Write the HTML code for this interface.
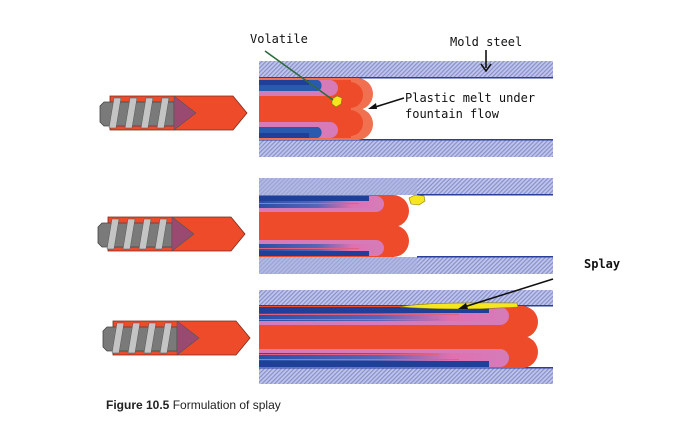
<!DOCTYPE html>
<html><head><meta charset="utf-8"><style>
body{margin:0;background:#fff;width:691px;height:439px;overflow:hidden}
svg{display:block}
.m{font-family:"DejaVu Sans Mono","Liberation Mono",monospace;font-size:12px;fill:#111}
</style></head><body>
<svg width="691" height="439" viewBox="0 0 691 439">
<defs>
<pattern id="h" width="3" height="3" patternUnits="userSpaceOnUse" patternTransform="rotate(45)">
<rect width="3" height="3" fill="#c0c5ea"/><rect width="1.2" height="3" fill="#8890cc"/>
</pattern>
<linearGradient id="band" x1="0" x2="1" y1="0" y2="0">
<stop offset="0" stop-color="#2a4fa8"/><stop offset="0.5" stop-color="#5566b8"/><stop offset="0.8" stop-color="#e070b0"/><stop offset="1" stop-color="#d77ab8"/>
</linearGradient>
<g id="inj">
<path d="M10,0 H133 L147,17 L133,34 H10 Z" fill="#ee4b2b" stroke="#7a2a1a" stroke-width="0.8"/>
<path d="M4,6 H74 V30 H4 L0,26 V10 Z" fill="#7a7a7a" stroke="#444" stroke-width="0.8"/>
<path d="M14,2 h7 l-5,30 h-7z M30,2 h7 l-5,30 h-7z M46,2 h7 l-5,30 h-7z M62,2 h7 l-5,30 h-7z" fill="#c4c4c4" stroke="#555" stroke-width="0.5"/>
<path d="M74,0 L96,17 L74,34 Z" fill="#9a4a70" stroke="#555" stroke-width="0.6"/>
</g>
</defs>

<use href="#inj" x="100" y="96"/>
<use href="#inj" x="98" y="217"/>
<use href="#inj" x="103" y="321"/>

<!-- Panel 1 -->
<rect x="259" y="61" width="294" height="17" fill="url(#h)"/>
<rect x="259" y="140" width="294" height="17" fill="url(#h)"/>
<rect x="259" y="77" width="294" height="1.5" fill="#2a3f9a"/>
<rect x="259" y="139" width="294" height="1.5" fill="#2a3f9a"/>
<g>
<rect x="259" y="78" width="100" height="62" fill="#f07050"/>
<circle cx="357" cy="94" r="16" fill="#f07050"/><circle cx="357" cy="124" r="16" fill="#f07050"/>
<rect x="259" y="80" width="92" height="58" fill="#ee4b2b"/>
<circle cx="350" cy="95" r="13" fill="#ee4b2b"/><circle cx="350" cy="123" r="13" fill="#ee4b2b"/>
<path d="M259,80 H330 a8,8 0 0 1 0,16 H259Z" fill="#d77ab8"/>
<path d="M259,138 H330 a8,8 0 0 0 0,-16 H259Z" fill="#d77ab8"/>
<path d="M259,80 H318 a6,6 0 0 1 0,11 H259Z" fill="#2a5ab0"/>
<path d="M259,138 H318 a6,6 0 0 0 0,-11 H259Z" fill="#2a5ab0"/>
<rect x="259" y="80" width="50" height="5" fill="#1f3f98"/>
<rect x="259" y="133" width="50" height="5" fill="#1f3f98"/>
</g>
<path d="M332,99 l5,-3 l5,2 l-1,6 l-5,3 l-4,-3z" fill="#f5e620" stroke="#8a7a00" stroke-width="0.6"/>
<line x1="265" y1="51" x2="333" y2="100" stroke="#2e6b3e" stroke-width="1.6"/>
<line x1="404" y1="98" x2="372" y2="108" stroke="#111" stroke-width="1.6"/>
<path d="M368,109 l8,-6 l1,6z" fill="#111"/>
<line x1="486" y1="50" x2="486" y2="68" stroke="#111" stroke-width="1.6"/>
<path d="M481,64 l5,7 l5,-7" fill="none" stroke="#111" stroke-width="1.6"/>
<text x="250" y="43" class="m">Volatile</text>
<text x="450" y="46" class="m">Mold steel</text>
<text x="405" y="102" class="m">Plastic melt under</text>
<text x="405" y="118" class="m">fountain flow</text>

<!-- Panel 2 -->
<rect x="259" y="178" width="294" height="17" fill="url(#h)"/>
<rect x="259" y="257" width="294" height="17" fill="url(#h)"/>
<rect x="259" y="178" width="158" height="17" fill="#a9b0de" opacity="0.6"/>
<rect x="259" y="257" width="158" height="17" fill="#a9b0de" opacity="0.6"/>
<rect x="417" y="194" width="136" height="1.5" fill="#2a3f9a"/>
<rect x="417" y="256" width="136" height="1.5" fill="#2a3f9a"/>
<rect x="259" y="195" width="135" height="62" fill="#ee4b2b"/>
<circle cx="393" cy="211" r="16" fill="#ee4b2b"/><circle cx="393" cy="241" r="16" fill="#ee4b2b"/>
<path d="M259,196 H376 a8,8 0 0 1 0,16 H259Z" fill="#d77ab8"/>
<path d="M259,256 H376 a8,8 0 0 0 0,-16 H259Z" fill="#d77ab8"/>
<path d="M259,196 H370 a6,6 0 0 1 0,12 H259Z" fill="url(#band)"/>
<path d="M259,256 H370 a6,6 0 0 0 0,-12 H259Z" fill="url(#band)"/>
<rect x="259" y="196" width="110" height="5" fill="#1f3f98"/>
<rect x="259" y="251" width="110" height="5" fill="#1f3f98"/>
<rect x="259" y="203" width="100" height="1" fill="#e06080"/>
<rect x="259" y="248" width="100" height="1" fill="#e06080"/>
<path d="M409,198 l6,-3 l9,1 l1,5 l-6,4 l-8,-1z" fill="#f5e620" stroke="#8a7a00" stroke-width="0.6"/>
<text x="584" y="268" class="m" font-weight="bold" font-size="11">Splay</text>

<!-- Panel 3 -->
<rect x="259" y="290" width="294" height="16" fill="url(#h)"/>
<rect x="259" y="368" width="294" height="16" fill="url(#h)"/>
<rect x="259" y="305" width="294" height="1.5" fill="#2a3f9a"/>
<rect x="259" y="367" width="294" height="1.5" fill="#2a3f9a"/>
<rect x="259" y="306" width="265" height="62" fill="#ee4b2b"/>
<circle cx="522" cy="322" r="16" fill="#ee4b2b"/><circle cx="522" cy="352" r="16" fill="#ee4b2b"/>
<path d="M259,307 H500 a9,9 0 0 1 0,18 H259Z" fill="#d77ab8"/>
<path d="M259,367 H500 a9,9 0 0 0 0,-18 H259Z" fill="#d77ab8"/>
<path d="M259,307 H492 a7,7 0 0 1 0,14 H259Z" fill="url(#band)"/>
<path d="M259,367 H492 a7,7 0 0 0 0,-14 H259Z" fill="url(#band)"/>
<rect x="259" y="307" width="230" height="6" fill="#1f3f98"/>
<rect x="259" y="361" width="230" height="6" fill="#1f3f98"/>
<rect x="259" y="314" width="200" height="1" fill="#e06080"/>
<rect x="259" y="319" width="180" height="1" fill="#e06080"/>
<rect x="259" y="354" width="180" height="1" fill="#e06080"/>
<rect x="259" y="359" width="200" height="1" fill="#e06080"/>
<path d="M400,307 Q420,302 517,303 L518,307 Q460,311 400,307Z" fill="#f5e620" stroke="#8a7a00" stroke-width="0.6"/>
<line x1="553" y1="279" x2="464" y2="307" stroke="#111" stroke-width="1.6"/>
<path d="M458,309 l8,-6 l2,6z" fill="#111"/>

<text x="106" y="409" font-family="Liberation Sans, sans-serif" font-size="12" fill="#222"><tspan font-weight="bold">Figure 10.5</tspan>  Formulation of splay</text>
</svg>
</body></html>
